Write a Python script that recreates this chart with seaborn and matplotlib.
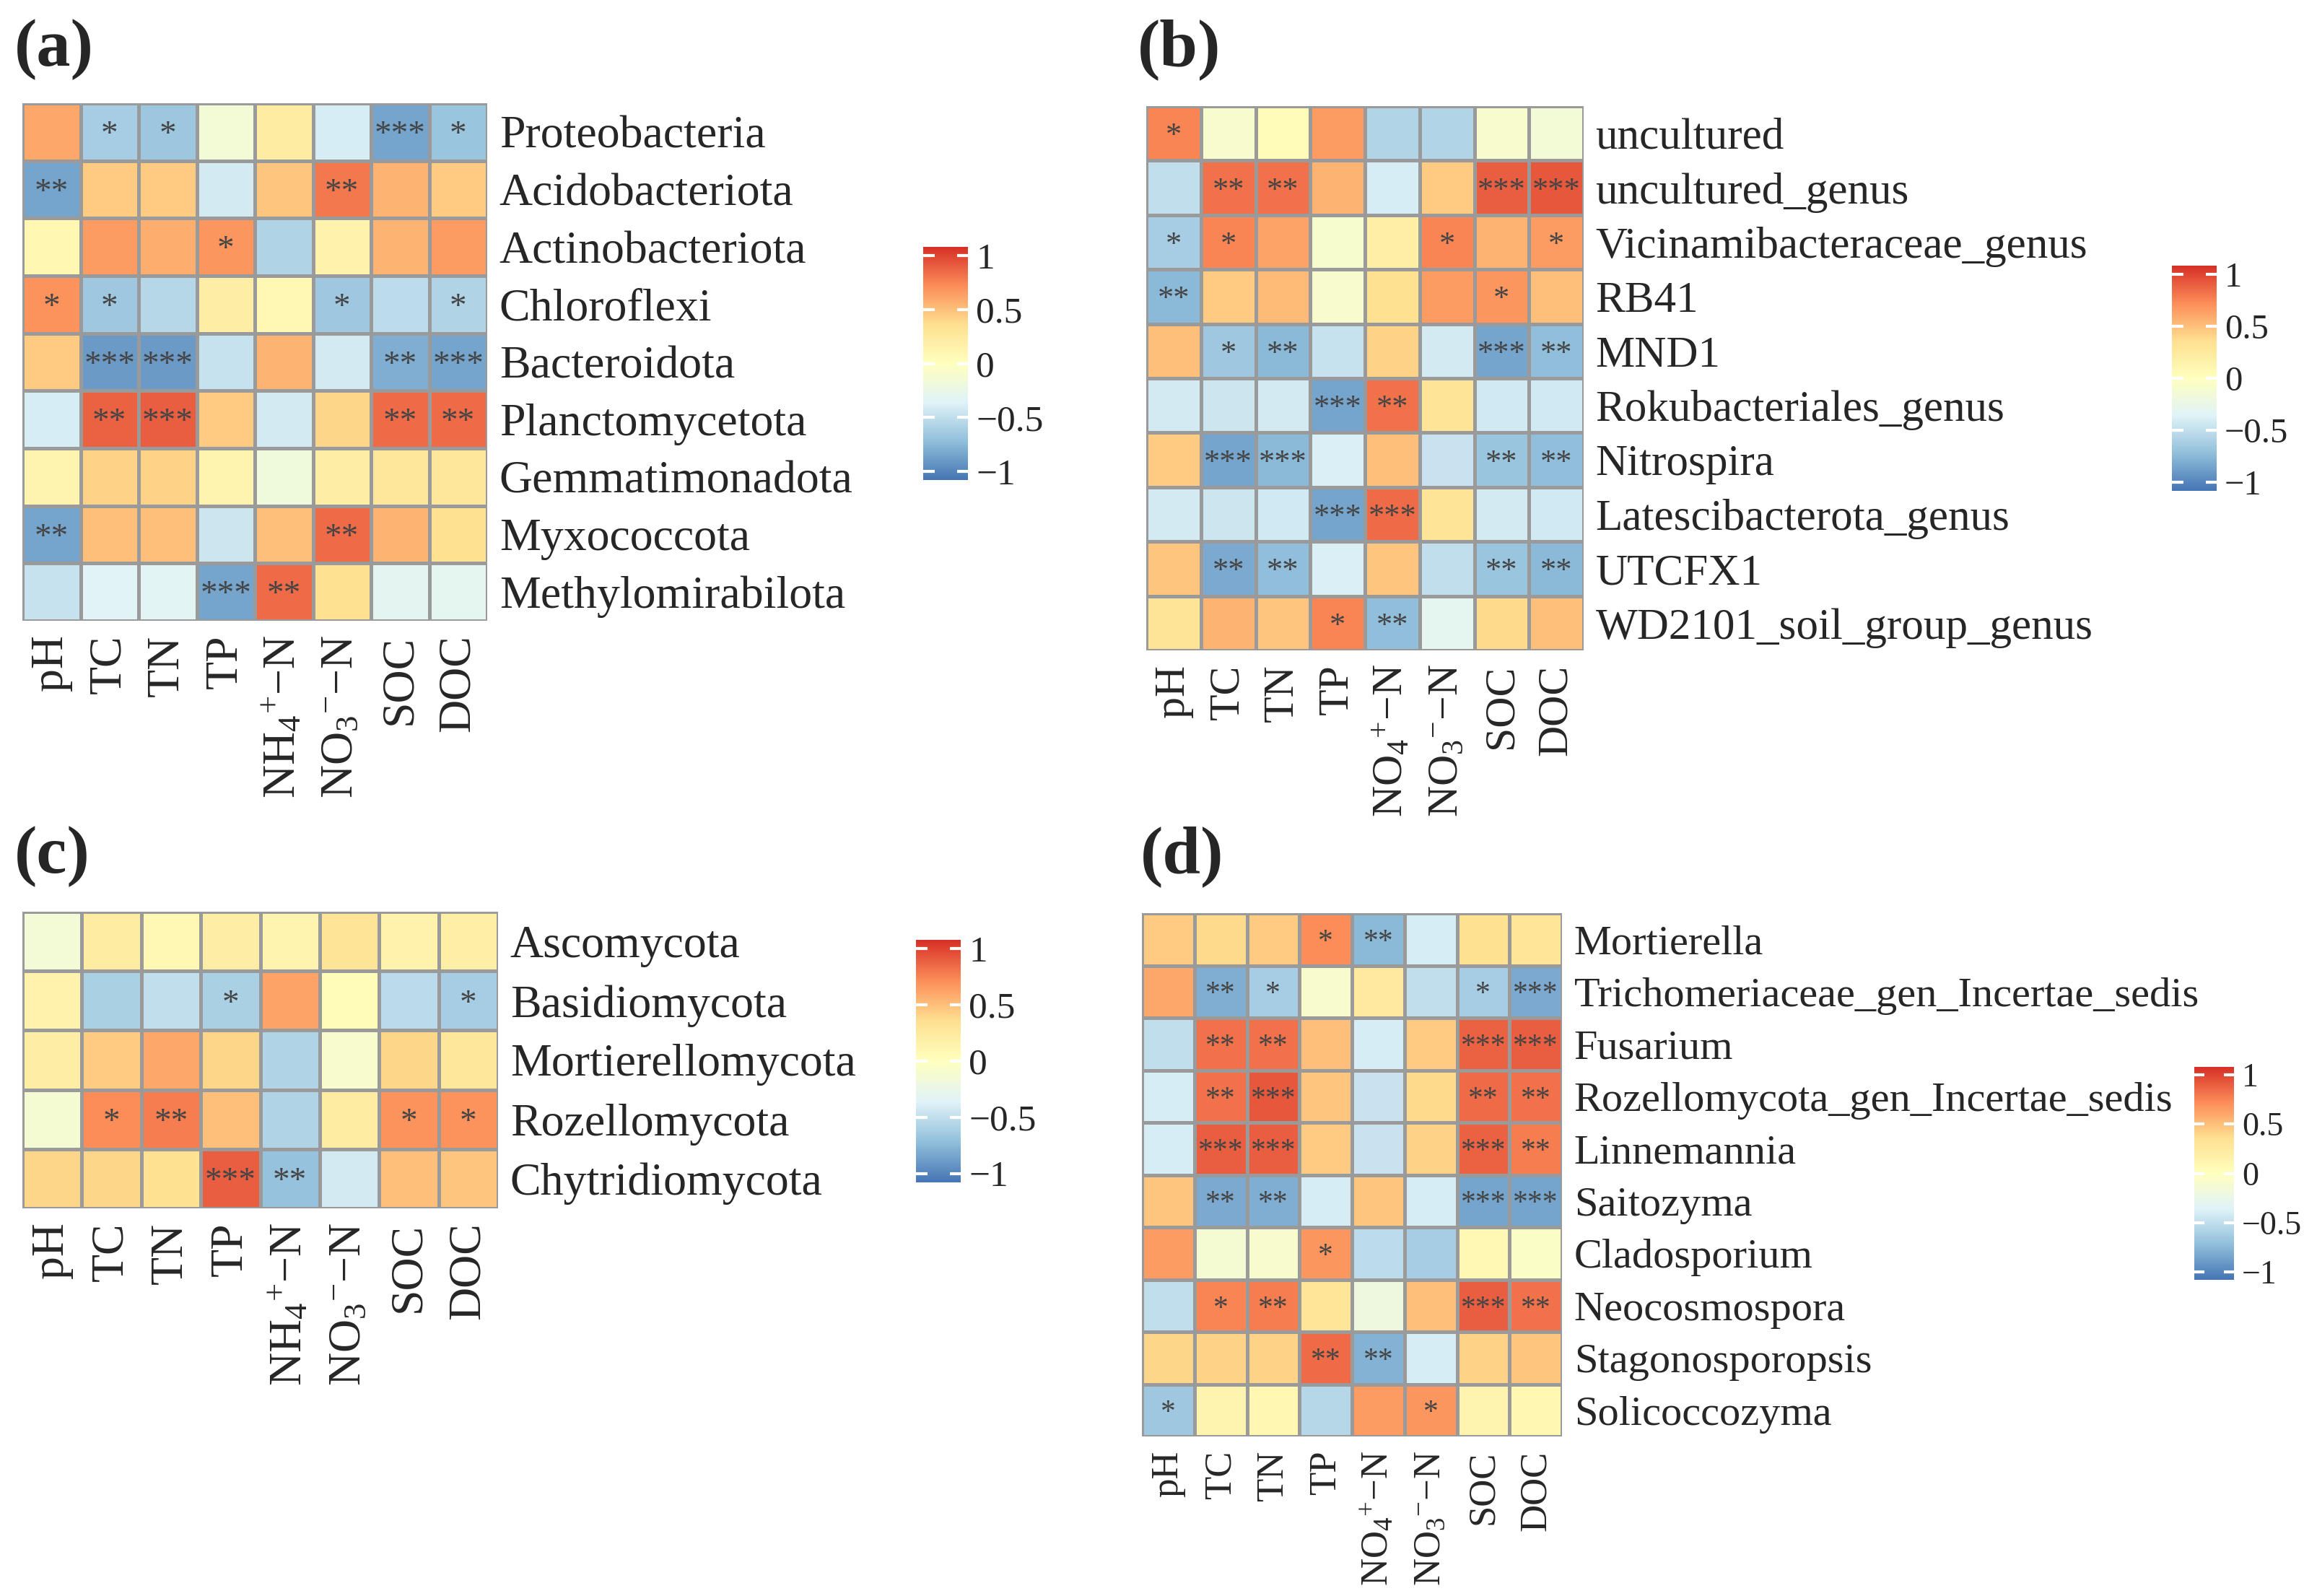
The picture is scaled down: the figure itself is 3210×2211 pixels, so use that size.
import numpy as np
import pandas as pd
import seaborn as sns
import matplotlib.pyplot as plt
from matplotlib.colors import LinearSegmentedColormap

sns.set_theme(style='white')
plt.rcParams['font.family'] = ['Liberation Serif', 'DejaVu Serif']
plt.rcParams['mathtext.fontset'] = 'custom'
plt.rcParams['mathtext.rm'] = 'Liberation Serif'
plt.rcParams['mathtext.default'] = 'regular'

# environmental factors (columns)
cols_nh = ['pH', 'TC', 'TN', 'TP', r'NH$_{4}{}^{+}$−N', r'NO$_{3}{}^{-}$−N', 'SOC', 'DOC']
cols_no = ['pH', 'TC', 'TN', 'TP', r'NO$_{4}{}^{+}$−N', r'NO$_{3}{}^{-}$−N', 'SOC', 'DOC']

# (a) bacterial phyla
rows_a = ['Proteobacteria', 'Acidobacteriota', 'Actinobacteriota', 'Chloroflexi', 'Bacteroidota',
          'Planctomycetota', 'Gemmatimonadota', 'Myxococcota', 'Methylomirabilota']
r_a = [
    [0.60, -0.62, -0.66, -0.15, 0.22, -0.40, -0.85, -0.68],
    [-0.85, 0.45, 0.45, -0.42, 0.48, 0.80, 0.55, 0.45],
    [0.10, 0.65, 0.58, 0.68, -0.58, 0.15, 0.55, 0.65],
    [0.70, -0.65, -0.55, 0.20, 0.08, -0.65, -0.52, -0.58],
    [0.45, -0.90, -0.90, -0.48, 0.55, -0.42, -0.80, -0.85],
    [-0.40, 0.88, 0.90, 0.45, -0.42, 0.40, 0.85, 0.85],
    [0.12, 0.42, 0.42, 0.12, -0.18, 0.20, 0.28, 0.28],
    [-0.85, 0.50, 0.50, -0.45, 0.50, 0.85, 0.55, 0.35],
    [-0.48, -0.35, -0.33, -0.85, 0.85, 0.35, -0.32, -0.30],
]
sig_a = [
    ['', '*', '*', '', '', '', '***', '*'],
    ['**', '', '', '', '', '**', '', ''],
    ['', '', '', '*', '', '', '', ''],
    ['*', '*', '', '', '', '*', '', '*'],
    ['', '***', '***', '', '', '', '**', '***'],
    ['', '**', '***', '', '', '', '**', '**'],
    ['', '', '', '', '', '', '', ''],
    ['**', '', '', '', '', '**', '', ''],
    ['', '', '', '***', '**', '', '', ''],
]

# (b) bacterial genera
rows_b = ['uncultured', 'uncultured_genus', 'Vicinamibacteraceae_genus', 'RB41', 'MND1',
          'Rokubacteriales_genus', 'Nitrospira', 'Latescibacterota_genus', 'UTCFX1',
          'WD2101_soil_group_genus']
r_b = [
    [0.75, -0.08, 0.05, 0.65, -0.57, -0.57, -0.08, -0.15],
    [-0.50, 0.82, 0.82, 0.55, -0.40, 0.45, 0.90, 0.92],
    [-0.62, 0.75, 0.62, -0.10, 0.18, 0.75, 0.55, 0.65],
    [-0.75, 0.45, 0.52, -0.08, 0.35, 0.65, 0.68, 0.50],
    [0.50, -0.65, -0.75, -0.48, 0.42, -0.42, -0.85, -0.72],
    [-0.42, -0.45, -0.42, -0.85, 0.82, 0.32, -0.43, -0.43],
    [0.45, -0.85, -0.75, -0.38, 0.50, -0.47, -0.68, -0.72],
    [-0.42, -0.45, -0.43, -0.85, 0.85, 0.32, -0.42, -0.43],
    [0.48, -0.82, -0.72, -0.38, 0.48, -0.50, -0.68, -0.75],
    [0.32, 0.55, 0.48, 0.75, -0.72, -0.30, 0.38, 0.50],
]
sig_b = [
    ['*', '', '', '', '', '', '', ''],
    ['', '**', '**', '', '', '', '***', '***'],
    ['*', '*', '', '', '', '*', '', '*'],
    ['**', '', '', '', '', '', '*', ''],
    ['', '*', '**', '', '', '', '***', '**'],
    ['', '', '', '***', '**', '', '', ''],
    ['', '***', '***', '', '', '', '**', '**'],
    ['', '', '', '***', '***', '', '', ''],
    ['', '**', '**', '', '', '', '**', '**'],
    ['', '', '', '*', '**', '', '', ''],
]

# (c) fungal phyla
rows_c = ['Ascomycota', 'Basidiomycota', 'Mortierellomycota', 'Rozellomycota', 'Chytridiomycota']
r_c = [
    [-0.15, 0.22, 0.08, 0.20, 0.12, 0.32, 0.15, 0.18],
    [0.15, -0.60, -0.50, -0.60, 0.62, 0.05, -0.53, -0.62],
    [0.20, 0.45, 0.60, 0.40, -0.58, -0.08, 0.40, 0.28],
    [-0.12, 0.72, 0.78, 0.50, -0.58, 0.22, 0.70, 0.70],
    [0.40, 0.40, 0.35, 0.90, -0.70, -0.42, 0.50, 0.48],
]
sig_c = [
    ['', '', '', '', '', '', '', ''],
    ['', '', '', '*', '', '', '', '*'],
    ['', '', '', '', '', '', '', ''],
    ['', '*', '**', '', '', '', '*', '*'],
    ['', '', '', '***', '**', '', '', ''],
]

# (d) fungal genera
rows_d = ['Mortierella', 'Trichomeriaceae_gen_Incertae_sedis', 'Fusarium',
          'Rozellomycota_gen_Incertae_sedis', 'Linnemannia', 'Saitozyma', 'Cladosporium',
          'Neocosmospora', 'Stagonosporopsis', 'Solicoccozyma']
r_d = [
    [0.45, 0.38, 0.45, 0.72, -0.75, -0.40, 0.35, 0.30],
    [0.60, -0.80, -0.62, -0.08, 0.25, -0.50, -0.62, -0.82],
    [-0.50, 0.82, 0.82, 0.50, -0.40, 0.45, 0.88, 0.90],
    [-0.40, 0.82, 0.92, 0.48, -0.47, 0.38, 0.85, 0.82],
    [-0.40, 0.90, 0.90, 0.45, -0.47, 0.42, 0.88, 0.78],
    [0.48, -0.82, -0.80, -0.40, 0.48, -0.40, -0.85, -0.85],
    [0.65, -0.12, -0.08, 0.68, -0.52, -0.62, 0.08, -0.05],
    [-0.50, 0.75, 0.78, 0.30, -0.20, 0.50, 0.90, 0.82],
    [0.40, 0.42, 0.42, 0.85, -0.78, -0.40, 0.42, 0.48],
    [-0.65, 0.12, 0.10, -0.55, 0.65, 0.68, 0.12, 0.10],
]
sig_d = [
    ['', '', '', '*', '**', '', '', ''],
    ['', '**', '*', '', '', '', '*', '***'],
    ['', '**', '**', '', '', '', '***', '***'],
    ['', '**', '***', '', '', '', '**', '**'],
    ['', '***', '***', '', '', '', '***', '**'],
    ['', '**', '**', '', '', '', '***', '***'],
    ['', '', '', '*', '', '', '', ''],
    ['', '*', '**', '', '', '', '***', '**'],
    ['', '', '', '**', '**', '', '', ''],
    ['*', '', '', '', '', '*', '', ''],
]

cmap = LinearSegmentedColormap.from_list(
    'rdylbu7', ['#4575B4', '#91BFDB', '#E0F3F8', '#FFFFBF', '#FEE090', '#FC8D59', '#D73027'])

W, H = 3210, 2211
fig = plt.figure(figsize=(W / 100, H / 100), dpi=100)


def px_rect(x0, y0, x1, y1):
    return [x0 / W, 1 - y1 / H, (x1 - x0) / W, (y1 - y0) / H]


panels = [
    ('(a)', rows_a, cols_nh, r_a, sig_a, (31, 143, 675, 860), (1279, 342, 1341, 665), (20, 26), 46, 46, 37, 34),
    ('(b)', rows_b, cols_no, r_b, sig_b, (1588, 147, 2194, 901), (3009, 368, 3071, 680), (1576, 26), 44, 43, 35, 32),
    ('(c)', rows_c, cols_nh, r_c, sig_c, (31, 1263, 690, 1674), (1269, 1302, 1331, 1638), (20, 1144), 46, 46, 37, 34),
    ('(d)', rows_d, cols_no, r_d, sig_d, (1582, 1265, 2164, 1990), (3040, 1478, 3095, 1773), (1580, 1144), 42, 38, 33, 30),
]

ticks = [-1, -0.5, 0, 0.5, 1]
for tag, rows, cols, vals, sig, hm_box, cb_box, tag_xy, fs_row, fs_col, fs_cb, fs_star in panels:
    ax = fig.add_axes(px_rect(*hm_box))
    cax = fig.add_axes(px_rect(*cb_box))
    df = pd.DataFrame(vals, index=rows, columns=cols)
    sns.heatmap(df, ax=ax, cmap=cmap, vmin=-1.08, vmax=1.08,
                annot=np.array(sig), fmt='',
                annot_kws={'size': fs_star, 'color': '#444444', 'va': 'center_baseline'},
                linewidths=2.5, linecolor='#9a9a9a',
                cbar_ax=cax, cbar_kws={'ticks': ticks})
    ax.yaxis.tick_right()
    ax.set_yticklabels(rows, rotation=0, fontsize=fs_row)
    ax.set_xticklabels(cols, rotation=90, fontsize=fs_col)
    ax.tick_params(axis='both', length=0)
    ax.tick_params(axis='y', pad=12)
    ax.tick_params(axis='x', pad=14)
    ax.set_xlabel('')
    ax.set_ylabel('')

    cbar = ax.collections[0].colorbar
    cbar.outline.set_visible(False)
    cbar.set_ticks(ticks)
    cbar.set_ticklabels(['−1', '−0.5', '0', '0.5', '1'])
    cax.tick_params(length=0, labelsize=fs_cb, pad=8)
    cax.hlines(ticks, 0, 0.25, color='white', lw=3)
    cax.hlines(ticks, 0.75, 1, color='white', lw=3)

    fig.text(tag_xy[0] / W, 1 - tag_xy[1] / H, tag, fontsize=68, fontweight='bold',
             ha='left', va='top')

fig.savefig('out.png', dpi=100, facecolor='white')
